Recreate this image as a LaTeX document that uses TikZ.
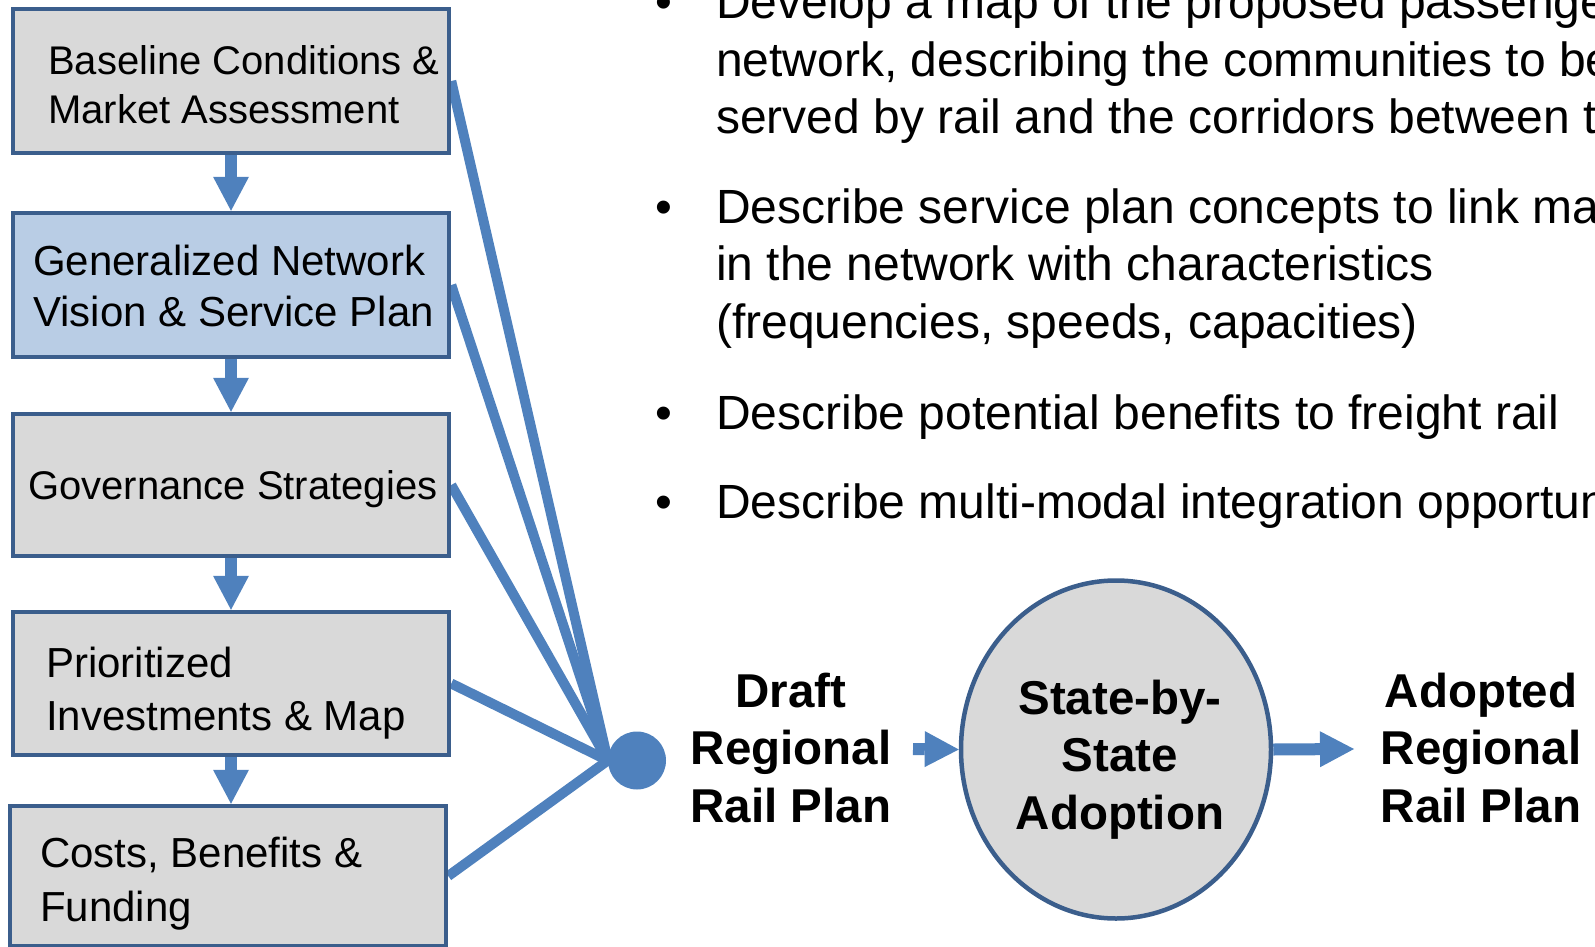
\documentclass[tikz,border=0pt]{standalone}
\usepackage{fontspec}
\setmainfont{Liberation Sans}
\usetikzlibrary{shapes.geometric,arrows.meta}
\definecolor{edgeblue}{HTML}{3B5E8C}
\definecolor{flowblue}{HTML}{4F81BD}
\definecolor{boxgray}{HTML}{D9D9D9}
\definecolor{boxblue}{HTML}{B9CDE5}
\pgfdeclarelayer{lines}
\pgfsetlayers{lines,main}
\newcommand{\leftlines}[1]{\begin{tabular}[t]{@{}l@{}}#1\end{tabular}}
\newcommand{\midlines}[1]{\begin{tabular}[t]{@{}c@{}}#1\end{tabular}}
\begin{document}
\begin{tikzpicture}[x=1pt,y=-1pt,
  stage/.style={draw=edgeblue, line width=4.5pt, fill=boxgray, minimum width=436pt, inner sep=0pt},
  stagetext/.style={inner sep=0pt, anchor=base west, text=black},
  fan/.style={draw=flowblue, line width=10pt},
  blockarrow/.style={draw=flowblue, line width=12pt,
    -{Triangle[width=36pt,length=34pt,line width=0pt]}},
  bullet/.style={inner sep=0pt, anchor=base, font=\fontsize{48pt}{57.4pt}\selectfont},
  bullettext/.style={inner sep=0pt, anchor=base west, font=\fontsize{48pt}{57.4pt}\selectfont},
  boldlabel/.style={inner sep=0pt, anchor=base, font=\fontsize{47.5pt}{57.5pt}\selectfont\bfseries}
]
\useasboundingbox (0,0) rectangle (1595,947);
\clip (0,0) rectangle (1595,947);

% planning stages, top to bottom
\node[stage, minimum height=144pt] (b1) at (231,81) {};
\node[stage, minimum height=144pt, fill=boxblue] (b2) at (231,285) {};
\node[stage, minimum height=142pt] (b3) at (231,485) {};
\node[stage, minimum height=143pt] (b4) at (231,683.5) {};
\node[stage, minimum height=140pt] (b5) at (228,876) {};

\node[stagetext, font=\fontsize{40pt}{48.5pt}\selectfont] (t1) at (48,75)
  {\leftlines{Baseline Conditions \&\\Market Assessment}};
\node[stagetext, font=\fontsize{42pt}{51pt}\selectfont] (t2) at (33,275)
  {\leftlines{Generalized Network\\Vision \& Service Plan}};
\node[stagetext, font=\fontsize{40pt}{48pt}\selectfont] (t3) at (28,499.5)
  {Governance Strategies};
\node[stagetext, font=\fontsize{42pt}{53pt}\selectfont] (t4) at (46,677)
  {\leftlines{Prioritized\\Investments \& Map}};
\node[stagetext, font=\fontsize{42pt}{54pt}\selectfont] (t5) at (40,867)
  {\leftlines{Costs, Benefits \&\\Funding}};

% arrows between stages
\draw[blockarrow] (b1.south) -- (b2.north);
\draw[blockarrow] (b2.south) -- (b3.north);
\draw[blockarrow] (b3.south) -- (b4.north);
\draw[blockarrow] (b4.south) -- (b4.south |- b5.north);

% every stage feeds the draft plan
\node[circle, fill=flowblue, minimum size=58pt, inner sep=0pt] (dot) at (637,760.5) {};
\begin{pgfonlayer}{lines}
\draw[fan] (b1.east) -- (dot.west);
\draw[fan] (b2.east) -- (dot.west);
\draw[fan] (b3.east) -- (dot.west);
\draw[fan] (b4.east) -- (dot.west);
\draw[fan] (b5.east) -- (dot.west);
\end{pgfonlayer}

% task bullets
\node[bullet] (k1) at (664,19) {•};
\node[bullettext] (d1) at (716,19)
  {\leftlines{Develop a map of the proposed passenger\\network, describing the communities to be\\served by rail and the corridors between them}};
\node[bullet] (k2) at (664,223.5) {•};
\node[bullettext] (d2) at (716,223.5)
  {\leftlines{Describe service plan concepts to link markets\\in the network with characteristics\\(frequencies, speeds, capacities)}};
\node[bullet] (k3) at (664,429) {•};
\node[bullettext] (d3) at (716,429) {Describe potential benefits to freight rail};
\node[bullet] (k4) at (664,518.5) {•};
\node[bullettext] (d4) at (716,518.5) {Describe multi-modal integration opportunities};

% adoption sequence
\node[boldlabel] (draft) at (791,707) {\midlines{Draft\\Regional\\Rail Plan}};
\node[ellipse, draw=edgeblue, line width=4.5pt, fill=boxgray,
  minimum width=310pt, minimum height=338pt, inner sep=0pt] (adopt) at (1116,749.5) {};
\node[boldlabel] (adopttext) at (1120,714) {\midlines{State-by-\\State\\Adoption}};
\node[boldlabel] (final) at (1481,707) {\midlines{Adopted\\Regional\\Rail Plan}};

\coordinate (draftout) at (913,749);
\coordinate (finalin) at (1354,749);
\draw[blockarrow] (draftout) -- (adopt.west);
\draw[blockarrow] (adopt.east) -- (finalin);
\end{tikzpicture}
\end{document}
